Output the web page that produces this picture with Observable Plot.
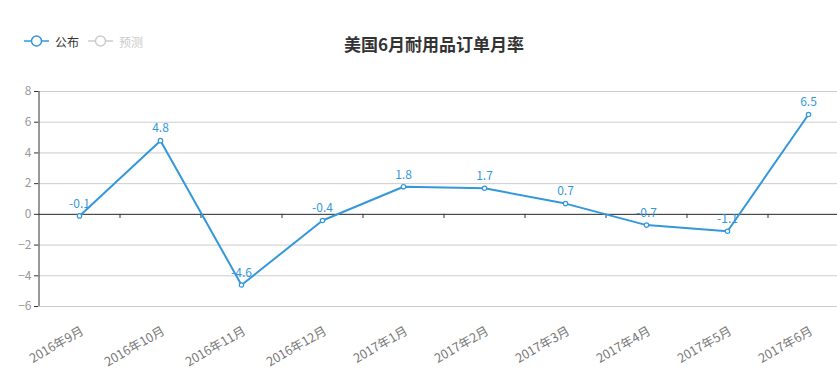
<!DOCTYPE html>
<html>
<head>
<meta charset="utf-8">
<script src="https://cdn.jsdelivr.net/npm/d3@7"></script>
<script src="https://cdn.jsdelivr.net/npm/@observablehq/plot@0.6"></script>
<style>
  html, body { margin: 0; padding: 0; background: #fff; overflow: hidden; }
  #wrap { position: relative; width: 837px; height: 383px; overflow: hidden; font-family: "Noto Sans CJK SC", "Noto Sans", sans-serif; }
  #title { position: absolute; left: 0; width: 868px; top: 31px; text-align: center; font-size: 17px; font-weight: bold; color: #333; line-height: 26px; }
  .leg { position: absolute; top: 31px; height: 20px; display: flex; align-items: center; font-size: 12px; }
  .leg svg { margin-right: 6px; }
  #chart { position: absolute; left: 0; top: 0; }
</style>
</head>
<body>
<div id="wrap">
  <div id="chart"></div>
  <div id="title">美国6月耐用品订单月率</div>
  <div class="leg" style="left:24px;color:#333">
    <svg width="25" height="14"><line x1="0" y1="7" x2="25" y2="7" stroke="#3398DB" stroke-width="1.5"/><circle cx="12.5" cy="7" r="5" fill="#fff" stroke="#3398DB" stroke-width="1.5"/></svg>公布
  </div>
  <div class="leg" style="left:88px;color:#ccc">
    <svg width="25" height="14"><line x1="0" y1="7" x2="25" y2="7" stroke="#ccc" stroke-width="1.5"/><circle cx="12.5" cy="7" r="5" fill="#fff" stroke="#ccc" stroke-width="1.5"/></svg>预测
  </div>
</div>
<script>
const months = ["2016年9月","2016年10月","2016年11月","2016年12月","2017年1月","2017年2月","2017年3月","2017年4月","2017年5月","2017年6月"];
const published = [-0.1, 4.8, -4.6, -0.4, 1.8, 1.7, 0.7, -0.7, -1.1, 6.5];
const yTicks = [-6, -4, -2, 0, 2, 4, 6, 8];

const data = months.map((m, i) => ({month: m, value: published[i]}));
const blue = "#3398DB";
const font = "'Microsoft YaHei', 'Noto Sans CJK SC', sans-serif";

const chart = Plot.plot({
  width: 837,
  height: 383,
  marginLeft: 38,
  marginRight: -11,
  marginTop: 91,
  marginBottom: 77,
  style: {fontFamily: font, fontSize: "12px", overflow: "hidden"},
  x: {type: "point", domain: months, padding: 0.5, label: null},
  y: {domain: [-6, 8], label: null},
  marks: [
    Plot.gridY(yTicks, {stroke: "#ccc", strokeOpacity: 1, strokeWidth: 1}),
    Plot.axisY(yTicks, {tickSize: 4, tickPadding: 3, stroke: "#333", strokeOpacity: 1, fill: "#999", fontSize: 12, label: null}),
    Plot.ruleX([0], {x: () => months[0], dx: -40.5, y1: -6, y2: 8, stroke: "#333"}),
    Plot.ruleY([0], {stroke: "#333"}),
    Plot.ruleX(months.slice(1), {x: d => d, dx: -40.5, y1: 0, y2: -0.27, stroke: "#333"}),
    Plot.axisX(months, {tickSize: 0, tickRotate: -30, textAnchor: "end", fill: "#777", fontSize: 12.5, dy: 11, dx: 3, label: null}),
    Plot.line(data, {x: "month", y: "value", stroke: blue, strokeWidth: 2}),
    Plot.dot(data, {x: "month", y: "value", r: 2.2, fill: "#fff", stroke: blue, strokeWidth: 1.2}),
    Plot.text(data, {x: "month", y: "value", text: d => String(d.value), dy: -12, fill: blue, fontSize: 12})
  ]
});
document.getElementById("chart").appendChild(chart);
</script>
</body>
</html>
